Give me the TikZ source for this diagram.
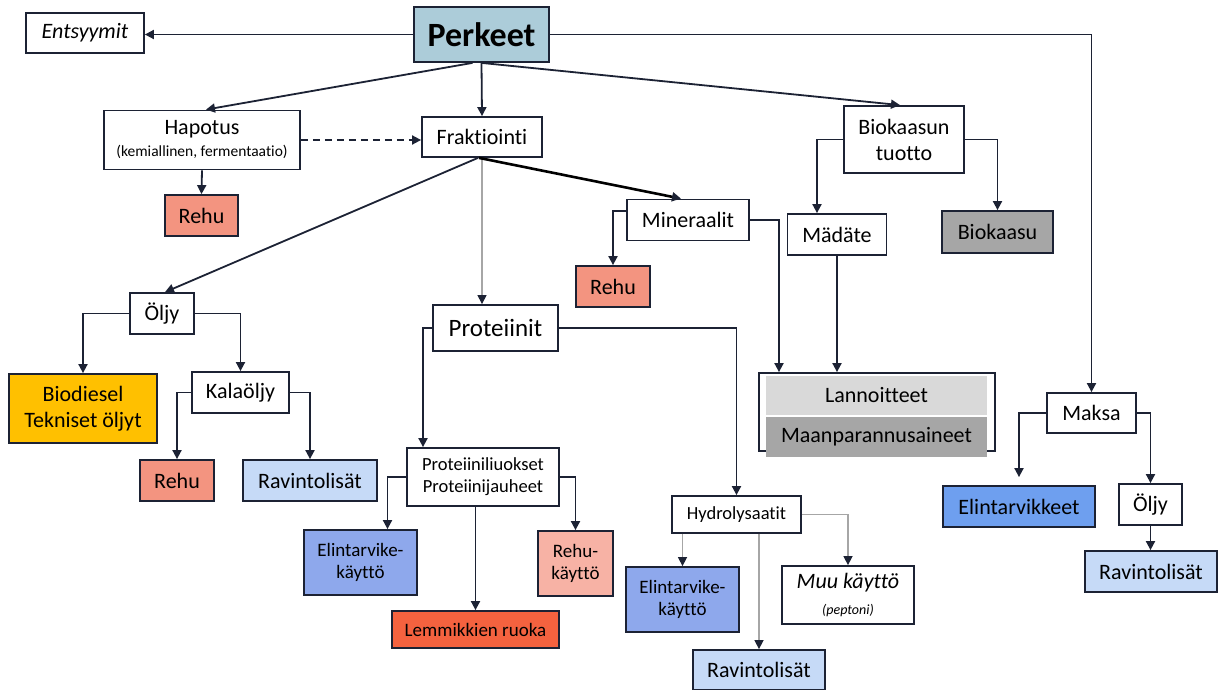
\documentclass[tikz,border=0pt]{standalone}
\usepackage{fontspec}
\setmainfont{Carlito}[Ligatures=NoCommon]
\usetikzlibrary{arrows.meta}
\definecolor{lnk}{HTML}{1C2234}
\definecolor{perkc}{HTML}{ACCCD9}
\definecolor{salm}{HTML}{F39480}
\definecolor{lsalm}{HTML}{F7B2A5}
\definecolor{redc}{HTML}{F4623F}
\definecolor{amber}{HTML}{FFC000}
\definecolor{lblue}{HTML}{C6DAF7}
\definecolor{mblue}{HTML}{8EA8EC}
\definecolor{eblue}{HTML}{6E9FEF}
\definecolor{dgrey}{HTML}{A6A6A6}
\definecolor{lgrey}{HTML}{D9D9D9}
\begin{document}
\begin{tikzpicture}[x=1pt,y=-1pt,
    box/.style={draw=lnk,line width=1.8pt,fill=white,inner sep=0pt,align=center,font=\fontsize{22pt}{26pt}\selectfont},
    sm/.style={font=\fontsize{19pt}{22pt}\selectfont},
    con/.style={draw=lnk,line width=1.8pt,-{Triangle[length=9pt,width=9pt,color=lnk]}},
    gcon/.style={con,draw=gray!70,line width=1.5pt}]
  \path[use as bounding box,fill=white] (0,0) rectangle (1219,690);
  \node[box,fill=perkc,minimum width=135pt,minimum height=55pt,font=\fontsize{34pt}{40pt}\selectfont\bfseries] (perk) at (481.5,34.5) {Perkeet};
  \node[box,minimum width=118pt,minimum height=40pt] (ents) at (85,33) {\textit{Entsyymit}};
  \node[box,minimum width=196pt,minimum height=59pt] (hap) at (202,140) {Hapotus\\[-4pt]{\fontsize{15.5pt}{18pt}\selectfont (kemiallinen, fermentaatio)}};
  \node[box,minimum width=120pt,minimum height=40pt] (frak) at (482,137) {Fraktiointi};
  \node[box,fill=salm,minimum width=73pt,minimum height=41pt] (rehu1) at (201.5,215.5) {Rehu};
  \node[box,minimum width=120pt,minimum height=67pt] (bio) at (904,139.5) {Biokaasun\\tuotto};
  \node[box,minimum width=122pt,minimum height=41pt] (mine) at (688,220) {Mineraalit};
  \node[box,minimum width=99pt,minimum height=41pt] (mad) at (837,234.5) {Mädäte};
  \node[box,fill=dgrey,minimum width=111pt,minimum height=42pt] (gas) at (997.5,232) {Biokaasu};
  \node[box,fill=salm,minimum width=74pt,minimum height=41pt] (rehu2) at (613,286.5) {Rehu};
  \node[box,minimum width=64pt,minimum height=41pt] (oil1) at (162,313.5) {Öljy};
  \node[box,fill=amber,minimum width=148pt,minimum height=69pt] (diesel) at (83,408.5) {Biodiesel\\Tekniset öljyt};
  \node[box,minimum width=97pt,minimum height=41pt] (kala) at (240.5,392.5) {Kalaöljy};
  \node[box,fill=salm,minimum width=74pt,minimum height=41pt] (rehu3) at (177,480.5) {Rehu};
  \node[box,fill=lblue,minimum width=134pt,minimum height=41pt] (rav1) at (310,480.5) {Ravintolisät};
  \node[box,minimum width=125pt,minimum height=46pt,font=\fontsize{25pt}{30pt}\selectfont] (prot) at (495.5,328) {Proteiinit};
  \node[box,minimum width=152pt,minimum height=58pt,font=\fontsize{18.5pt}{22pt}\selectfont] (liuos) at (483,477) {Proteiiniliuokset\\Proteiinijauheet};
  \node[box,sm,fill=mblue,minimum width=113pt,minimum height=65pt] (elin1) at (360.5,562.5) {Elintarvike-\\käyttö};
  \node[box,sm,fill=lsalm,minimum width=75pt,minimum height=65pt] (rehuk) at (575.5,563.5) {Rehu-\\käyttö};
  \node[box,sm,fill=redc,minimum width=167pt,minimum height=37pt] (lemm) at (475.5,629.5) {Lemmikkien ruoka};
  \node[box,minimum width=129pt,minimum height=37pt,font=\fontsize{18.5pt}{22pt}\selectfont] (hydro) at (736.5,514.5) {Hydrolysaatit};
  \node[box,sm,fill=mblue,minimum width=113pt,minimum height=65pt] (elin2) at (682.5,599.5) {Elintarvike-\\käyttö};
  \node[box,minimum width=132pt,minimum height=58pt] (muu) at (848,595) {\textit{Muu käyttö}\\{\fontsize{14pt}{16pt}\selectfont\textit{(peptoni)}}};
  \node[box,fill=lblue,minimum width=132pt,minimum height=40pt] (rav2) at (759,670) {Ravintolisät};
  \node[box,minimum width=236pt,minimum height=78pt] (lann) at (877,412) {};
  \node[box,draw=none,fill=lgrey,minimum width=221pt,minimum height=39pt] (lan1) at (876.5,395.5) {Lannoitteet};
  \node[box,draw=none,fill=dgrey,minimum width=221pt,minimum height=40pt] (lan2) at (876.5,437) {Maanparannusaineet};
  \node[box,minimum width=89pt,minimum height=40pt] (maksa) at (1091.5,413) {Maksa};
  \node[box,fill=eblue,minimum width=152pt,minimum height=41pt] (elin3) at (1019,506.5) {Elintarvikkeet};
  \node[box,minimum width=63pt,minimum height=41pt] (oil2) at (1150.5,504.5) {Öljy};
  \node[box,fill=lblue,minimum width=132pt,minimum height=41pt] (rav3) at (1151,571.5) {Ravintolisät};
  \draw[con] (perk.west) -- (perk.west -| ents.east);
  \draw[con] (perk.east) -| (maksa.north);
  \draw[con] ([xshift=-9pt]perk.south) -- ([xshift=4pt]hap.north);
  \draw[con] (perk.south) -- (frak.north);
  \draw[con] (perk.south) -- ([xshift=-4pt]bio.north);
  \draw[con,dash pattern=on 7pt off 5pt] (hap.east) -- (hap.east -| frak.west);
  \draw[con] (hap.south) -- (rehu1.north);
  \draw[con] ([xshift=-4pt]frak.south) -- ([xshift=3pt]oil1.north);
  \draw[gcon,line width=1.2pt] (frak.south) -- (frak.south |- prot.north);
  \draw[con,draw=black,line width=2.6pt] ([xshift=-3pt]frak.south) -- ([xshift=-7pt]mine.north);
  \draw[con] ([yshift=9pt]mine.west) -| (rehu2.north);
  \draw[con] (mine.east) -| ([xshift=-98pt]lann.north);
  \draw[con] (mad.south) -- (mad.south |- lann.north);
  \draw[con] (bio.west) -| ([xshift=-20pt]mad.north);
  \draw[con] (bio.east) -| (gas.north);
  \draw[con] (oil1.west) -| (diesel.north);
  \draw[con] (oil1.east) -| (kala.north);
  \draw[con] (kala.west) -| (rehu3.north);
  \draw[con] (kala.east) -| (rav1.north);
  \draw[con] (prot.west) -| ([xshift=-60pt]liuos.north);
  \draw[con] (prot.east) -| (hydro.north);
  \draw[con] (liuos.west) -| ([xshift=27pt]elin1.north);
  \draw[con] (liuos.east) -| (rehuk.north);
  \draw[con] (lemm.north |- liuos.south) -- (lemm.north);
  \draw[gcon] (hydro.south -| elin2.north) -- (elin2.north);
  \draw[gcon] (hydro.south -| rav2.north) -- (rav2.north);
  \draw[gcon] (hydro.east) -| (muu.north);
  \draw[con,shorten >=8pt] (maksa.west) -| (elin3.north);
  \draw[con] (maksa.east) -| (oil2.north);
  \draw[con] (oil2.south) -- (oil2.south |- rav3.north);
\end{tikzpicture}
\end{document}
